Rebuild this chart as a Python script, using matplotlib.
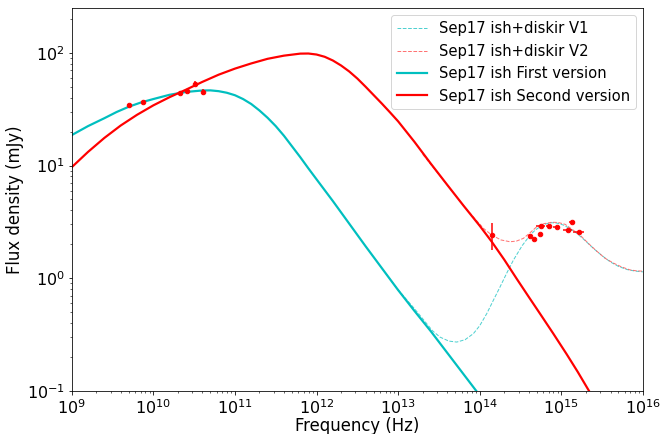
import numpy as np
import matplotlib
matplotlib.use("Agg")
import matplotlib.pyplot as plt

# ---- model curves (log10 nu [Hz], log10 F [mJy]) ----
first_lognu = [8.95, 9.0, 9.2, 9.4, 9.55, 9.7, 9.85, 10.0, 10.2, 10.4, 10.6, 10.7, 10.8, 10.9,
               11.0, 11.1, 11.2, 11.3, 11.4, 11.5, 11.6, 11.7, 11.8, 11.9, 12.0, 12.2, 12.4,
               12.6, 12.8, 13.0, 13.2, 13.4, 13.6, 13.8, 14.0, 14.1]
first_logF = [1.25, 1.27, 1.35, 1.42, 1.475, 1.522, 1.56, 1.59, 1.628, 1.653, 1.666, 1.667,
              1.660, 1.646, 1.624, 1.590, 1.546, 1.489, 1.424, 1.35, 1.265, 1.17, 1.075,
              0.975, 0.878, 0.685, 0.485, 0.285, 0.09, -0.105, -0.29, -0.47, -0.66, -0.85,
              -1.04, -1.13]

second_lognu = [8.95, 9.0, 9.2, 9.4, 9.6, 9.8, 10.0, 10.2, 10.4, 10.6, 10.8, 11.0, 11.2, 11.4,
                11.6, 11.8, 11.9, 12.0, 12.1, 12.2, 12.3, 12.4, 12.5, 12.6, 12.7, 12.8, 12.9,
                13.0, 13.2, 13.4, 13.6, 13.8, 14.0, 14.147, 14.3, 14.453, 14.6, 14.739, 14.9,
                15.066, 15.2, 15.339, 15.45]
second_logF = [0.95, 0.985, 1.121, 1.245, 1.355, 1.450, 1.534, 1.607, 1.673, 1.742, 1.806,
               1.860, 1.906, 1.947, 1.975, 1.993, 1.994, 1.985, 1.965, 1.932, 1.888, 1.835,
               1.772, 1.700, 1.625, 1.550, 1.472, 1.392, 1.21, 1.017, 0.83, 0.645, 0.465,
               0.324, 0.165, -0.005, -0.165, -0.315, -0.49, -0.675, -0.83, -1.0, -1.14]

v1_lognu = [12.8, 12.983, 13.2, 13.33, 13.42, 13.513, 13.62, 13.718, 13.82, 13.922, 14.0, 14.086,
            14.17, 14.249, 14.33, 14.412, 14.52, 14.617, 14.68, 14.739, 14.81, 14.882, 14.95,
            15.025, 15.1, 15.189, 15.29, 15.392, 15.5, 15.597, 15.7, 15.801, 15.9, 16.0]
v1_logF = [0.09, -0.088, -0.27, -0.385, -0.465, -0.522, -0.557, -0.566, -0.545, -0.491, -0.42,
           -0.313, -0.19, -0.076, 0.045, 0.161, 0.29, 0.383, 0.428, 0.457, 0.482, 0.493, 0.489,
           0.472, 0.443, 0.399, 0.335, 0.265, 0.20, 0.146, 0.105, 0.078, 0.064, 0.057]

v2_lognu = [13.3, 13.5, 13.8, 13.963, 14.05, 14.147, 14.26, 14.371, 14.45, 14.534, 14.61,
            14.698, 14.79, 14.882, 14.96, 15.045, 15.14, 15.229, 15.33, 15.434, 15.53, 15.637,
            15.74, 15.842, 15.92, 16.0]
v2_logF = [1.10, 0.92, 0.645, 0.51, 0.44, 0.383, 0.34, 0.324, 0.33, 0.354, 0.40,
           0.457, 0.485, 0.497, 0.495, 0.479, 0.43, 0.383, 0.31, 0.240, 0.18, 0.135,
           0.10, 0.074, 0.066, 0.063]

# ---- observed data ----
radio_nu = [5.0e9, 7.5e9, 2.1e10, 2.6e10, 3.2e10, 4.1e10]
radio_F = [34.2, 36.9, 43.8, 45.9, 53.0, 45.0]
radio_Ferr = [0.8, 0.8, 0.8, 0.8, 2.7, 3.0]
radio_nuerr = [2.0e8, 0.0, 0.0, 0.0, 0.0, 0.0]

oir_nu = [1.40e14, 4.14e14, 4.63e14, 5.52e14, 5.64e14, 7.0e14, 8.77e14, 1.20e15, 1.36e15, 1.65e15]
oir_F = [2.42, 2.37, 2.24, 2.45, 2.90, 2.92, 2.85, 2.66, 3.15, 2.55]
oir_Ferr = [0.65, 0.04, 0.04, 0.06, 0.05, 0.05, 0.05, 0.05, 0.05, 0.05]
oir_nuerr = [0.0, 0.0, 0.0, 0.0, 7.0e13, 6.0e13, 8.0e13, 1.6e14, 1.1e14, 2.5e14]

labels = ["Sep17 ish+diskir V1", "Sep17 ish+diskir V2",
          "Sep17 ish First version", "Sep17 ish Second version"]

def lin(a):
    return 10 ** np.asarray(a)

DPI = 72
fig = plt.figure(figsize=(662 / DPI, 434 / DPI), dpi=DPI)
ax = fig.add_axes([0.1083, 0.0991, 0.863, 0.8825])

ax.plot(lin(v1_lognu), lin(v1_logF), ls="--", color="#30c8c8", lw=1.0, alpha=0.85, label=labels[0])
ax.plot(lin(v2_lognu), lin(v2_logF), ls="--", color="#ff5050", lw=1.0, alpha=0.8, label=labels[1])
ax.plot(lin(first_lognu), lin(first_logF), color="c", lw=2.2, label=labels[2])
ax.plot(lin(second_lognu), lin(second_logF), color="r", lw=2.2, label=labels[3])

ax.errorbar(radio_nu, radio_F, yerr=radio_Ferr, xerr=radio_nuerr, fmt="o", color="r",
            ms=4.5, elinewidth=1.5, capsize=0)
ax.errorbar(oir_nu, oir_F, yerr=oir_Ferr, xerr=oir_nuerr, fmt="o", color="r",
            ms=4.5, elinewidth=1.5, capsize=0)

ax.set_xscale("log")
ax.set_yscale("log")
ax.set_xlim(1e9, 1e16)
ax.set_ylim(0.1, 250)
ax.set_xlabel("Frequency (Hz)", fontsize=16.5, labelpad=0)
ax.set_ylabel("Flux density (mJy)", fontsize=16.5, labelpad=3)
ax.tick_params(labelsize=16)
ax.legend(loc="upper right", fontsize=14.8)

fig.savefig("out.png", dpi=DPI)
